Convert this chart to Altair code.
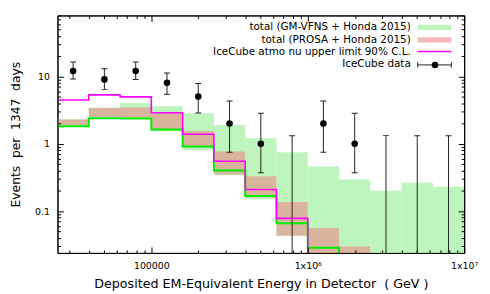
import math
import altair as alt
import pandas as pd

# ---------------- data ----------------
log_edges = [4.4, 4.6, 4.8, 5.0, 5.2, 5.4, 5.6, 5.8, 6.0, 6.2, 6.4, 6.6, 6.8, 7.0]

counts = [12, 9, 12, 8, 5, 2, 1, 0, 2, 1, 0, 0, 0]
err_lo = [9.1, 6.4, 9.0, 5.4, 2.85, 0.75, 0.37, 0, 0.75, 0.37, 0, 0, 0]
err_hi = [16.3, 13.0, 16.3, 11.2, 7.8, 4.29, 2.83, 1.31, 4.29, 2.83, 1.33, 1.31, 1.31]

gm_lo = [1.82, 2.45, 2.38, 1.52, 0.80, 0.34, 0.15, 0.043, 0, 0, 0, 0, 0]
gm_hi = [2.30, 3.42, 3.97, 3.60, 2.83, 1.90, 1.21, 0.745, 0.46, 0.295, 0.20, 0.264, 0.23]

pr_lo = [1.86, 2.50, 2.45, 1.62, 0.88, 0.35, 0.16, 0.043, 0, 0]
pr_hi = [2.28, 3.38, 3.45, 2.83, 1.55, 0.77, 0.33, 0.137, 0.056, 0.030]

green_line = [1.82, 2.39, 2.36, 1.62, 0.91, 0.40, 0.168, 0.066, 0.0286]
magenta_line = [4.45, 5.3, 4.96, 2.88, 1.38, 0.55, 0.209, 0.078]

legend_labels = [
    "total (GM-VFNS + Honda 2015)",
    "total (PROSA + Honda 2015)",
    "IceCube atmo nu upper limit 90% C.L.",
    "IceCube data",
]

x_major = [1e5, 1e6, 1e7]
x_minor = [3e4, 4e4, 5e4, 6e4, 7e4, 8e4, 9e4,
           2e5, 3e5, 4e5, 5e5, 6e5, 7e5, 8e5, 9e5,
           2e6, 3e6, 4e6, 5e6, 6e6, 7e6, 8e6, 9e6]
y_major = [0.1, 1, 10]
y_minor = [0.03, 0.04, 0.05, 0.06, 0.07, 0.08, 0.09,
           0.2, 0.3, 0.4, 0.5, 0.6, 0.7, 0.8, 0.9,
           2, 3, 4, 5, 6, 7, 8, 9,
           20, 30, 40, 50, 60, 70, 80]

x_title = "Deposited EM-Equivalent Energy in Detector\u00a0\u00a0( GeV )"
y_title = "Events\u00a0\u00a0per\u00a0\u00a01347\u00a0\u00a0days"

# ---------------- derived tables ----------------
FLOOR = 1e-3  # below the visible range (values of 0 on a log axis)


def fl(v):
    return v if v > 0 else FLOOR


edges = [10 ** e for e in log_edges]
lo = edges[:-1]
hi = edges[1:]
centers = [math.sqrt(a * b) for a, b in zip(lo, hi)]

gm_df = pd.DataFrame({"lo": lo, "hi": hi, "ylo": [fl(v) for v in gm_lo], "yhi": gm_hi})
npr = len(pr_lo)
pr_df = pd.DataFrame({"lo": lo[:npr], "hi": hi[:npr], "ylo": [fl(v) for v in pr_lo], "yhi": pr_hi})
green_df = pd.DataFrame({"x": edges[:len(green_line) + 1], "y": green_line + [FLOOR]})
mag_df = pd.DataFrame({"x": edges[:len(magenta_line) + 1], "y": magenta_line + [FLOOR]})
err_df = pd.DataFrame({"x": centers, "ylo": [fl(v) for v in err_lo], "yhi": err_hi})
pts_df = pd.DataFrame({"x": centers, "y": counts})
pts_df = pts_df[pts_df["y"] > 0]
cap_df = pd.DataFrame({
    "x": centers + [c for c, v in zip(centers, err_lo) if v > 0],
    "y": err_hi + [v for v in err_lo if v > 0],
})

# ---------------- styling ----------------
W, H = 411, 240
FONT = "DejaVu Sans"
HATCH = "#bdf5bd"
PINK = "#ee8888"
PINK_OP = 0.6
MAGENTA = "#ff00ff"
LIME = "#00ee00"
INK = "#222222"

xs = alt.Scale(type="log", domain=[edges[0], edges[-1]], nice=False)
ys = alt.Scale(type="log", domain=[0.024, 80], nice=False)

ax_x_label = alt.Axis(
    orient="bottom", values=x_major,
    labelExpr="datum.value < 5e5 ? '100000' : (datum.value < 5e6 ? '1x10\u2076' : '1x10\u2077')",
    ticks=False, tickSize=0, domain=True, domainColor="black", domainWidth=1, grid=False,
    labelFont=FONT, labelFontSize=9.5, labelColor="black", labelPadding=16,
    labelBaseline="alphabetic", labelFlush=False, labelOverlap=False,
    title=x_title, titleFont=FONT, titleFontSize=12.8, titleFontWeight="normal",
    titleColor="black", titleY=35, titleBaseline="alphabetic", zindex=1,
)
ay_label = alt.Axis(
    orient="left", values=y_major,
    labelExpr="datum.value >= 5 ? '10' : (datum.value >= 0.5 ? '1' : '0.1')",
    ticks=False, tickSize=0, domain=True, domainColor="black", domainWidth=1, grid=False,
    labelFont=FONT, labelFontSize=9.5, labelColor="black", labelPadding=8,
    labelOverlap=False,
    title=y_title, titleFont=FONT, titleFontSize=12.4, titleFontWeight="normal",
    titleColor="black", titleX=-38, titleY=H / 2, titleBaseline="alphabetic",
    titleAngle=270, zindex=1,
)


def tick_axis(orient, offset, vals, size, domain=False):
    return alt.Axis(
        orient=orient, offset=offset, values=vals, labels=False, ticks=True,
        tickSize=size, tickColor="black", tickWidth=1, domain=domain,
        domainColor="black", domainWidth=1, grid=False, title=None, zindex=1,
    )


# inward ticks: an axis placed on the opposite edge points into the plot
ax_b_maj = tick_axis("top", -H, x_major, 6)
ax_b_min = tick_axis("top", -H, x_minor, 3)
ax_t_maj = tick_axis("bottom", -H, x_major, 6, domain=True)
ax_t_min = tick_axis("bottom", -H, x_minor, 3)
ay_l_maj = tick_axis("right", -W, y_major, 6)
ay_l_min = tick_axis("right", -W, y_minor, 3)
ay_r_maj = tick_axis("left", -W, y_major, 6, domain=True)
ay_r_min = tick_axis("left", -W, y_minor, 3)

# ---------------- layers ----------------
hatch = alt.Chart(gm_df).mark_rect(fill=HATCH, clip=True).encode(
    x=alt.X("lo:Q", scale=xs, axis=ax_x_label), x2="hi:Q",
    y=alt.Y("ylo:Q", scale=ys, axis=ay_label), y2="yhi:Q",
)
pink = alt.Chart(pr_df).mark_rect(fill=PINK, opacity=PINK_OP, clip=True).encode(
    x=alt.X("lo:Q", scale=xs, axis=ax_b_maj), x2="hi:Q",
    y=alt.Y("ylo:Q", scale=ys, axis=ay_l_maj), y2="yhi:Q",
)
green = alt.Chart(green_df).mark_line(
    interpolate="step-after", color=LIME, strokeWidth=2, clip=True
).encode(
    x=alt.X("x:Q", scale=xs, axis=ax_b_min),
    y=alt.Y("y:Q", scale=ys, axis=ay_l_min),
)
magenta = alt.Chart(mag_df).mark_line(
    interpolate="step-after", color=MAGENTA, strokeWidth=1.6, clip=True
).encode(
    x=alt.X("x:Q", scale=xs, axis=ax_t_maj),
    y=alt.Y("y:Q", scale=ys, axis=ay_r_maj),
)
err = alt.Chart(err_df).mark_rule(color=INK, strokeWidth=1, clip=True).encode(
    x=alt.X("x:Q", scale=xs, axis=ax_t_min),
    y=alt.Y("ylo:Q", scale=ys, axis=ay_r_min), y2="yhi:Q",
)
caps = alt.Chart(cap_df).mark_tick(
    orient="horizontal", size=6, thickness=1, color=INK, opacity=1, clip=True
).encode(
    x=alt.X("x:Q", scale=xs, axis=None),
    y=alt.Y("y:Q", scale=ys, axis=None),
)
pts = alt.Chart(pts_df).mark_point(
    filled=True, shape="circle", size=44, color="black", opacity=1
).encode(
    x=alt.X("x:Q", scale=xs, axis=None),
    y=alt.Y("y:Q", scale=ys, axis=None),
)

# ---------------- legend (inside, top right) ----------------
leg_y = [12, 24.5, 36.5, 49.5]
leg_layers = []
for lab, yy in zip(legend_labels, leg_y):
    leg_layers.append(
        alt.Chart(pd.DataFrame({"label": [lab]})).mark_text(
            align="right", baseline="middle", font=FONT, fontSize=10.5, color="black"
        ).encode(x=alt.value(357), y=alt.value(yy), text="label:N")
    )

one = pd.DataFrame({"k": [0]})
leg_layers += [
    alt.Chart(one).mark_rect(fill=HATCH).encode(
        x=alt.value(364), x2=alt.value(398), y=alt.value(9.5), y2=alt.value(14.8)),
    alt.Chart(one).mark_rect(fill=PINK, opacity=PINK_OP).encode(
        x=alt.value(364), x2=alt.value(398), y=alt.value(22), y2=alt.value(27.3)),
    alt.Chart(one).mark_rule(color=MAGENTA, strokeWidth=1.6).encode(
        x=alt.value(364), x2=alt.value(398), y=alt.value(36.5)),
    alt.Chart(one).mark_rule(color=INK, strokeWidth=1).encode(
        x=alt.value(364), x2=alt.value(398), y=alt.value(50)),
    alt.Chart(one).mark_rule(color=INK, strokeWidth=1).encode(
        x=alt.value(364), y=alt.value(47.3), y2=alt.value(52.7)),
    alt.Chart(one).mark_rule(color=INK, strokeWidth=1).encode(
        x=alt.value(398), y=alt.value(47.3), y2=alt.value(52.7)),
    alt.Chart(one).mark_point(filled=True, shape="circle", size=44, color="black", opacity=1).encode(
        x=alt.value(381.5), y=alt.value(50)),
]

chart = alt.layer(
    hatch, pink, green, magenta, err, caps, pts, *leg_layers
).resolve_axis(
    x="independent", y="independent"
).properties(
    width=W, height=H,
    autosize=alt.AutoSizeParams(type="none"),
    padding={"left": 50, "top": 6, "right": 18, "bottom": 40},
).configure_view(stroke="black", strokeWidth=1)

chart.save("out.html", embed_options={"renderer": "svg", "actions": False})
